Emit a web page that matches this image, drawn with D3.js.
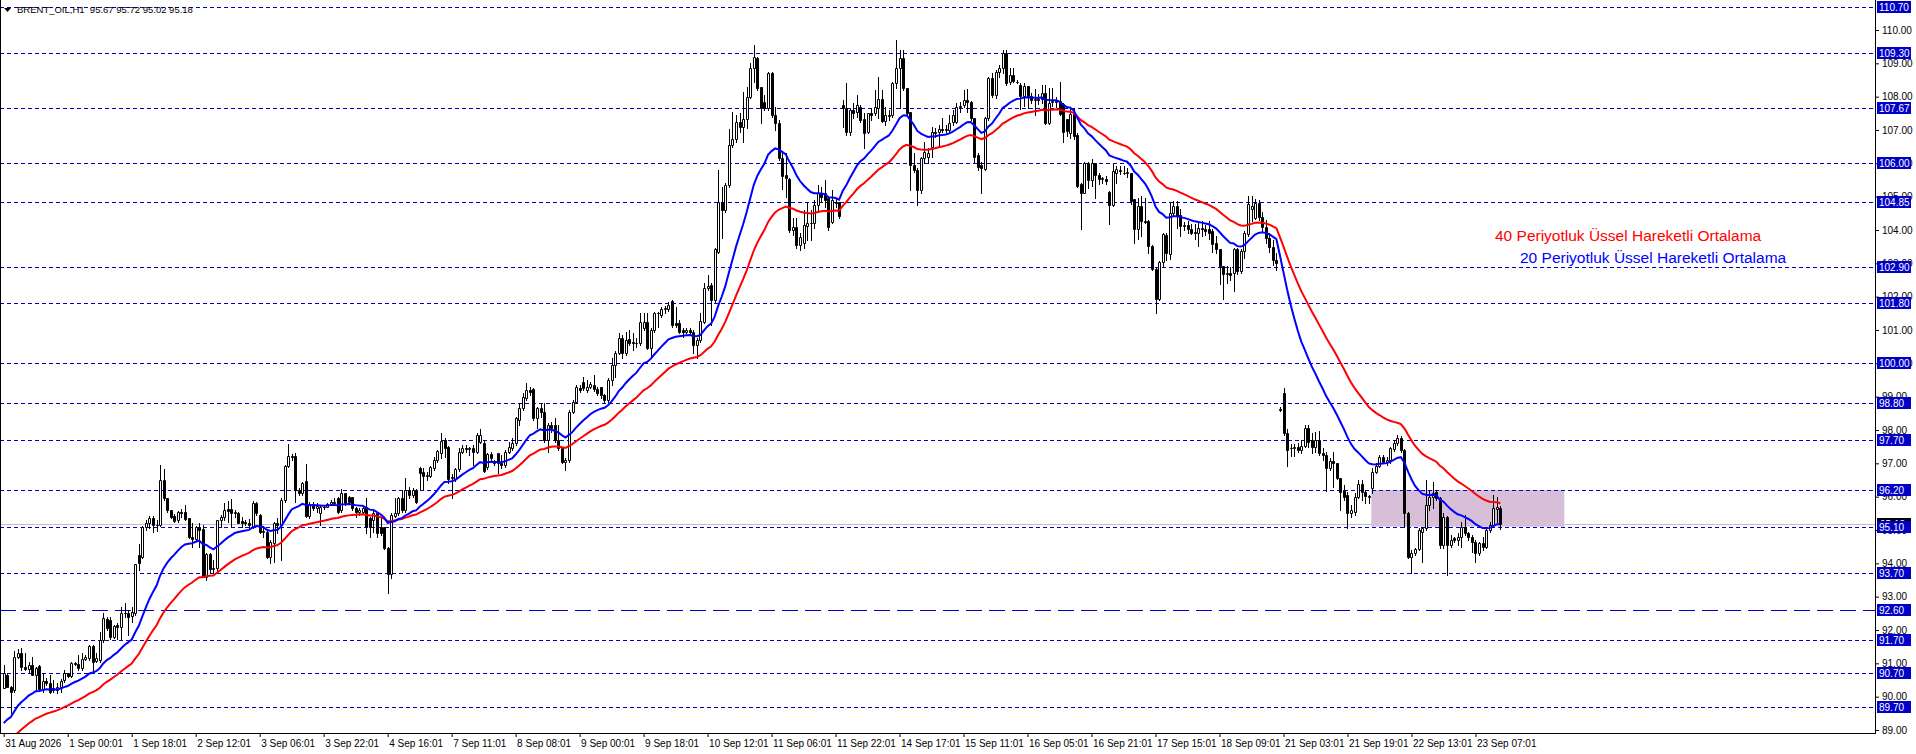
<!DOCTYPE html>
<html><head><meta charset="utf-8">
<script src="https://cdn.jsdelivr.net/npm/d3@7"></script>
<style>
html,body{margin:0;padding:0;background:#fff;overflow:hidden;}
svg{display:block;font-family:"Liberation Sans",Arial,sans-serif;}
</style></head><body>
<svg id="chart" width="1916" height="754"></svg>
<script>
const titleText = "BRENT_OIL,H1  95.67 95.72 95.02 95.18";
const tickLabels = ["31 Aug 2026","1 Sep 00:01","1 Sep 18:01","2 Sep 12:01","3 Sep 06:01","3 Sep 22:01","4 Sep 16:01","7 Sep 11:01","8 Sep 08:01","9 Sep 00:01","9 Sep 18:01","10 Sep 12:01","11 Sep 06:01","11 Sep 22:01","14 Sep 17:01","15 Sep 11:01","16 Sep 05:01","16 Sep 21:01","17 Sep 15:01","18 Sep 09:01","21 Sep 03:01","21 Sep 19:01","22 Sep 13:01","23 Sep 07:01"];
const barsPerTick = 18;
const priceTicks = [89,90,91,92,93,94,95,96,97,98,99,100,101,102,103,104,105,106,107,108,109,110];
const levelPrices = [110.70,109.30,107.67,106.00,104.85,102.90,101.80,100.00,98.80,97.70,96.20,95.10,93.70,92.60,91.70,90.70,89.70];
const longDashLevel = 92.60;
const bidPrice = 95.18;
const zoneBars = [384.7, 439];
const zonePrices = [95.10, 96.20];
const emaSeeds = {ema20: 89.05, ema40: 88.4};
const legendTexts = ["40 Periyotluk Üssel Hareketli Ortalama", "20 Periyotluk Üssel Hareketli Ortalama"];

const openP = [
90.25,90.65,90.30,90.20,91.20,91.30,90.90,90.82,90.95,90.65,
90.92,90.22,90.48,90.42,90.25,90.20,90.28,90.50,90.70,90.63,
91.00,90.97,90.85,91.12,91.15,91.52,91.08,91.10,91.70,92.33,
92.30,91.80,92.15,92.10,92.50,92.52,92.43,92.50,94.25,94.20,
95.10,95.20,95.35,95.15,95.15,96.50,95.95,95.60,95.42,95.30,
95.55,95.55,95.35,94.80,94.72,95.08,95.02,93.60,94.27,93.82,
93.85,95.30,95.40,95.62,95.62,95.52,95.52,95.28,95.25,95.20,
95.10,95.80,95.45,94.95,94.95,94.20,94.60,95.20,95.15,95.90,
96.92,97.22,97.22,96.20,96.12,96.48,95.42,95.78,95.65,95.50,
95.70,95.70,95.78,95.85,95.95,95.60,96.10,95.98,95.98,95.65,
95.55,95.55,95.70,95.35,95.30,95.50,95.10,95.08,94.45,93.68,
95.42,95.50,95.95,95.60,96.20,96.05,96.20,96.85,96.75,96.62,
96.62,96.85,97.10,97.30,97.70,97.50,96.55,96.52,96.82,97.35,
97.45,97.42,97.45,97.35,97.65,97.62,96.88,97.28,97.05,97.30,
97.00,96.95,97.35,97.45,97.60,98.30,98.65,98.95,99.20,99.22,
98.35,98.65,98.55,97.70,98.15,98.15,97.70,97.45,97.05,97.10,
98.55,98.85,99.25,99.45,99.20,99.28,99.35,99.22,99.28,99.05,
98.90,99.50,99.95,100.32,100.75,100.30,100.72,100.65,100.60,100.60,
101.05,101.25,100.45,101.00,101.52,101.45,101.62,101.62,101.88,101.20,
101.20,101.00,100.95,101.00,100.95,100.55,100.70,101.25,102.25,102.35,
101.90,103.35,104.85,104.60,105.35,106.55,106.72,107.25,107.10,107.32,
108.00,108.85,109.15,108.30,107.85,107.65,108.70,107.45,107.20,106.15,
105.65,105.52,104.00,104.10,103.55,103.60,104.12,104.20,104.20,104.75,
105.10,105.10,104.95,104.25,104.85,104.85,107.75,107.65,106.95,107.60,
107.55,107.70,107.32,106.95,107.50,107.50,107.65,107.92,107.28,107.45,
107.45,108.40,108.85,109.15,108.25,107.55,105.95,105.80,105.20,106.15,
106.20,106.50,106.95,106.95,107.02,107.00,107.00,107.25,107.25,107.70,
107.75,107.90,107.85,107.35,106.25,105.95,105.82,107.35,108.55,108.05,
108.75,108.85,109.30,108.45,108.65,108.45,108.35,108.02,108.32,108.02,
107.90,107.92,107.94,108.12,107.22,107.85,107.87,107.87,107.77,107.32,
106.92,107.47,106.84,105.37,105.12,106.00,105.50,106.02,105.64,105.52,
105.54,105.14,104.74,105.72,105.79,105.72,105.70,105.70,104.92,104.02,
104.72,104.27,104.27,103.52,102.82,101.92,103.04,103.85,103.27,104.52,
104.72,104.44,104.12,104.14,104.04,103.92,103.92,104.07,104.02,104.02,
103.97,103.60,103.42,102.92,102.67,102.72,102.72,103.42,102.77,103.37,
103.87,104.62,104.37,104.82,104.40,104.10,103.75,103.50,103.10,98.62,
99.10,97.90,97.45,97.45,97.50,97.40,97.52,98.05,97.70,97.50,
97.70,97.30,97.25,96.85,97.08,97.02,96.55,96.20,96.05,95.50,
95.55,96.00,96.38,96.15,96.02,96.25,96.75,96.92,97.20,97.05,
97.10,97.42,97.60,97.75,97.40,95.52,94.20,94.30,94.42,94.95,
95.05,95.75,96.00,96.15,95.95,94.55,95.40,94.55,94.75,94.70,
94.80,95.10,94.90,94.80,94.65,94.30,94.60,94.50,95.00,95.15,
95.62,95.67];

const highP = [
90.95,90.70,90.32,91.37,91.42,91.45,91.30,91.05,91.20,90.90,
90.95,90.70,90.55,90.65,90.50,90.40,90.52,90.80,90.72,91.05,
91.05,91.25,91.30,91.25,91.55,91.55,91.30,91.95,92.50,92.40,
92.40,92.15,92.20,92.70,92.80,92.60,92.70,93.98,94.58,95.12,
95.30,95.42,95.42,95.30,96.95,96.82,95.95,95.60,95.48,95.58,
95.62,95.75,95.35,95.20,95.12,95.20,95.15,94.30,94.30,94.10,
95.30,95.45,95.80,95.87,95.92,95.60,95.55,95.40,95.30,95.32,
95.88,95.85,95.48,95.10,94.98,94.70,95.25,95.35,95.95,96.95,
97.58,97.28,97.30,96.25,96.45,96.98,95.85,95.85,95.80,95.75,
95.75,95.82,95.90,95.95,96.00,96.22,96.12,96.02,96.00,95.68,
95.65,95.70,95.95,95.38,95.60,95.52,95.35,95.10,94.48,95.52,
95.95,96.00,96.20,96.55,96.30,96.25,96.22,96.90,96.85,96.75,
96.92,97.18,97.40,97.92,97.75,97.52,96.68,96.85,97.45,97.55,
97.55,97.50,97.55,97.92,98.02,97.70,97.32,97.35,97.10,97.30,
97.25,97.40,97.65,97.75,98.40,98.80,99.10,99.40,99.30,99.25,
98.70,98.80,98.80,98.20,98.25,98.35,98.15,97.50,97.15,98.60,
98.90,99.35,99.35,99.60,99.50,99.45,99.65,99.30,99.30,99.08,
99.55,100.15,100.38,100.92,100.85,100.95,101.00,100.92,100.75,101.50,
101.50,101.50,101.05,101.55,101.55,101.68,101.72,101.85,101.90,101.70,
101.30,101.05,101.05,101.05,101.00,100.75,101.50,102.40,102.65,102.40,
103.45,105.80,105.30,105.40,107.02,107.55,107.45,107.50,108.15,108.30,
109.00,109.55,109.20,108.30,108.05,108.75,108.75,107.70,107.30,106.30,
106.30,105.55,104.35,104.35,103.90,104.60,104.85,104.60,104.90,105.35,
105.30,105.50,105.00,105.20,104.95,104.85,107.90,108.40,107.62,107.80,
108.05,107.75,107.50,107.52,107.65,108.20,108.60,108.20,107.70,107.60,
108.45,109.70,109.40,109.40,108.25,107.55,106.30,105.85,106.20,106.65,
106.45,107.10,107.05,107.15,107.35,107.15,107.45,107.60,107.80,107.85,
108.20,108.22,107.88,107.35,106.30,106.05,107.40,108.60,108.70,108.80,
108.95,109.40,109.40,108.85,108.85,108.50,108.42,108.42,108.32,108.10,
108.22,108.07,108.34,108.34,108.27,108.27,108.00,108.44,107.82,107.32,
107.62,107.67,106.90,105.40,106.05,106.05,106.12,106.02,105.72,105.60,
105.62,105.17,105.97,105.92,105.92,105.92,105.85,105.72,104.92,104.97,
105.02,104.97,104.30,103.54,102.85,103.07,103.92,103.92,104.84,104.87,
104.87,104.62,104.25,104.27,104.17,104.17,104.27,104.27,104.15,104.27,
104.02,103.82,103.42,102.92,102.92,102.90,103.47,103.47,103.42,103.97,
105.02,105.02,104.92,104.90,104.55,104.30,103.90,103.70,103.30,98.70,
99.25,98.02,97.58,97.58,97.62,97.70,98.15,98.15,97.90,97.95,
97.98,97.45,97.35,97.15,97.35,97.02,96.55,96.35,96.15,95.75,
96.10,96.50,96.50,96.20,96.05,96.85,97.00,97.25,97.25,97.20,
97.50,97.70,97.85,97.82,97.42,95.55,94.40,94.45,95.05,95.10,
96.50,96.20,96.45,96.20,96.00,95.50,95.42,94.85,94.80,94.90,
95.25,95.45,94.95,94.85,94.70,94.65,94.80,95.05,95.25,96.05,
96.00,95.72];

const lowP = [
90.25,90.28,89.50,90.15,91.15,90.80,90.80,90.70,90.65,90.20,
90.20,90.15,90.35,90.10,90.15,90.10,90.15,90.45,90.60,90.60,
90.95,90.80,90.80,91.10,91.10,90.70,91.05,91.05,91.65,92.00,
91.72,91.75,91.72,91.72,92.40,91.85,92.25,92.45,93.80,94.15,
95.00,95.05,94.95,94.98,95.12,95.90,95.55,95.35,95.25,95.25,
95.40,95.30,94.75,94.50,94.70,94.48,93.58,93.50,93.75,93.70,
93.78,95.08,95.30,95.25,95.08,95.40,95.20,95.08,95.15,95.05,
95.05,95.45,94.90,94.80,94.15,94.00,94.05,94.90,94.10,95.85,
96.90,97.10,95.85,96.05,96.05,95.40,95.35,95.60,95.55,95.15,
95.62,95.68,95.75,95.78,95.50,95.55,95.75,95.80,95.60,95.38,
95.45,95.50,94.90,94.80,94.95,94.80,94.85,94.42,93.12,93.55,
95.38,95.45,95.55,95.55,95.95,96.00,95.80,96.22,96.22,96.50,
96.58,96.80,97.05,97.15,97.20,96.42,95.95,96.48,96.78,97.30,
97.35,97.25,96.95,97.30,97.60,96.75,96.82,97.10,96.95,96.72,
96.85,96.90,97.30,97.40,97.55,98.15,98.60,98.90,99.05,98.30,
98.05,98.40,97.65,97.35,97.95,97.65,97.40,97.00,96.80,97.05,
98.50,98.80,99.15,99.20,99.15,99.25,99.18,99.05,98.95,98.80,
98.85,99.35,99.60,100.28,100.15,100.25,100.55,100.40,100.50,100.55,
101.00,100.42,100.15,100.95,101.10,101.40,101.50,101.58,101.10,101.10,
100.92,100.80,100.90,100.85,100.30,100.15,100.65,101.20,102.20,101.15,
101.85,103.30,103.75,104.55,105.30,106.50,106.65,106.95,106.65,107.05,
107.95,108.45,108.20,107.20,107.60,107.60,107.40,107.00,106.10,105.22,
105.00,103.95,103.85,103.45,103.40,103.45,103.70,103.70,104.05,104.55,
104.85,104.70,104.00,104.20,104.70,104.35,107.10,106.85,106.85,107.35,
107.40,107.25,106.45,106.90,107.30,107.45,107.35,107.25,107.15,107.30,
107.40,108.25,107.65,108.20,107.45,105.20,105.75,104.75,105.10,106.00,
106.00,106.20,106.80,106.50,106.95,106.95,106.95,107.15,107.20,107.55,
107.70,107.55,107.30,106.05,105.80,105.10,105.80,107.30,108.00,107.95,
108.60,108.70,108.35,108.37,108.45,108.40,107.62,107.72,107.67,107.80,
107.45,107.77,107.82,107.17,107.17,107.72,107.70,107.45,106.64,106.82,
106.77,106.72,105.30,104.02,105.10,105.27,105.32,104.97,105.37,105.40,
105.37,104.17,104.72,105.42,105.67,105.67,105.60,104.77,103.62,103.72,
103.82,104.22,103.32,102.80,101.52,101.90,102.92,103.10,103.12,104.42,
104.07,103.82,104.00,103.92,103.87,103.72,103.52,103.82,103.85,103.72,
103.34,103.32,102.37,101.92,102.42,102.50,102.17,102.67,102.72,103.17,
103.82,104.27,104.32,104.30,103.95,103.60,103.35,102.95,102.80,98.58,
97.85,96.92,97.22,97.22,97.35,97.30,97.50,97.50,97.30,97.35,
97.25,97.10,96.18,96.80,96.30,96.52,95.60,95.90,95.05,95.40,
95.45,95.95,95.90,95.80,95.80,96.10,96.70,96.88,97.00,96.95,
97.00,97.38,97.55,97.35,95.10,94.15,93.70,94.25,94.40,94.05,
95.00,95.60,95.65,95.90,94.45,94.45,93.65,94.50,94.65,94.55,
94.50,94.85,94.70,94.35,94.05,94.25,94.40,94.45,94.95,95.10,
95.25,95.02];

const closeP = [
90.70,90.30,90.15,91.20,91.30,90.90,90.82,90.95,90.65,90.87,
90.22,90.48,90.42,90.15,90.20,90.28,90.48,90.70,90.63,91.00,
90.97,90.85,91.12,91.18,91.52,91.05,91.15,91.70,92.35,92.05,
91.80,92.12,92.10,92.50,92.52,92.40,92.53,93.98,94.00,95.10,
95.20,95.35,95.15,95.14,96.50,95.95,95.60,95.40,95.28,95.55,
95.50,95.32,94.78,94.74,95.08,95.00,93.60,94.27,93.82,93.85,
95.30,95.40,95.60,95.57,95.52,95.55,95.22,95.22,95.20,95.15,
95.80,95.50,94.95,94.98,94.20,94.65,95.20,95.15,95.90,96.92,
97.22,97.18,96.20,96.12,96.42,95.42,95.78,95.65,95.72,95.70,
95.68,95.78,95.85,95.82,95.55,96.10,95.80,95.85,95.65,95.55,
95.60,95.65,95.10,95.10,95.50,94.90,94.90,94.45,93.68,95.45,
95.52,95.95,95.60,96.20,96.05,96.20,95.85,96.70,96.62,96.65,
96.88,97.10,97.38,97.68,97.45,96.52,96.58,96.82,97.35,97.45,
97.42,97.45,97.35,97.85,97.85,96.78,97.28,97.15,97.00,97.00,
96.95,97.35,97.50,97.60,98.35,98.65,99.00,99.20,99.15,98.35,
98.65,98.55,97.70,98.15,98.05,97.70,97.45,97.05,97.10,98.55,
98.85,99.30,99.20,99.25,99.28,99.38,99.22,99.10,99.05,98.90,
99.50,99.95,100.32,100.75,100.32,100.70,100.60,100.60,100.62,101.25,
101.25,100.45,101.00,101.52,101.50,101.62,101.65,101.75,101.15,101.15,
100.95,100.95,101.00,100.95,100.55,100.70,101.28,102.25,102.32,101.90,
103.42,104.85,104.60,105.35,106.55,106.72,107.25,107.10,107.32,108.00,
108.85,109.20,108.25,107.65,107.65,108.70,107.45,107.20,106.15,105.62,
105.55,104.00,104.10,103.55,103.80,104.15,104.22,104.22,104.75,105.10,
105.00,104.90,104.10,104.90,104.82,104.42,107.65,106.95,107.60,107.50,
107.75,107.30,106.90,107.50,107.45,107.70,107.92,107.28,107.45,107.42,
108.40,108.85,109.15,108.25,107.50,105.95,105.80,105.20,106.15,106.35,
106.30,106.95,106.90,107.02,107.00,107.02,107.20,107.45,107.70,107.72,
107.90,107.85,107.35,106.20,105.90,105.85,107.35,108.55,108.05,108.75,
108.85,109.30,108.40,108.65,108.47,108.43,108.02,108.32,108.02,107.90,
107.94,107.90,108.12,107.22,107.82,107.87,107.85,107.47,106.94,106.97,
107.47,106.82,105.32,105.12,106.02,105.50,106.02,105.64,105.52,105.55,
105.47,104.74,105.77,105.82,105.77,105.70,105.75,104.87,104.02,104.72,
104.27,104.25,103.52,102.82,101.92,103.04,103.87,103.30,104.52,104.72,
104.42,104.12,104.15,104.04,103.92,103.94,104.07,104.02,103.98,103.92,
103.57,103.42,102.92,102.67,102.72,102.65,103.42,102.77,103.37,103.92,
104.77,104.72,104.82,104.40,104.10,103.75,103.50,103.10,103.00,98.60,
97.92,97.40,97.45,97.50,97.40,97.52,98.05,97.65,97.50,97.70,
97.30,97.25,96.85,97.08,97.02,96.55,96.15,96.00,95.50,95.60,
96.00,96.38,96.15,96.02,96.00,96.75,96.92,97.20,97.05,97.10,
97.45,97.60,97.75,97.40,95.52,94.20,94.30,94.42,95.00,95.05,
95.75,96.00,96.10,95.95,94.55,95.40,94.55,94.70,94.70,94.80,
95.10,94.90,94.80,94.65,94.30,94.60,94.50,95.00,95.15,95.65,
95.70,95.18];

// ---------- layout ----------
const W = 1916, H = 754, plotR = 1875, plotB = 733;
const levelColor = "#0000C8";
const n = closeP.length;
const x = d3.scaleLinear().domain([0, n - 1]).range([3.7, 3.7 + (n - 1) * 3.555]);
const y = d3.scaleLinear().domain([110, 89]).range([30, 730]);
const svg = d3.select("#chart");

svg.append("rect").attr("width", W).attr("height", H).attr("fill", "#fff");
svg.append("defs").append("clipPath").attr("id", "plotClip")
  .append("rect").attr("x", 0).attr("y", 0).attr("width", plotR).attr("height", plotB);
const plot = svg.append("g").attr("clip-path", "url(#plotClip)");

// bid line
plot.append("line").attr("x1", 0).attr("x2", plotR)
  .attr("y1", Math.round(y(bidPrice)) + 0.5).attr("y2", Math.round(y(bidPrice)) + 0.5)
  .attr("stroke", "#c0c0c0").attr("stroke-width", 1);

// zone rectangle
plot.append("rect")
  .attr("x", x(zoneBars[0])).attr("width", x(zoneBars[1]) - x(zoneBars[0]))
  .attr("y", y(zonePrices[1])).attr("height", y(zonePrices[0]) - y(zonePrices[1]))
  .attr("fill", "#d8bfd8");

// level lines
plot.selectAll("line.level").data(levelPrices).enter().append("line")
  .attr("class", "level")
  .attr("x1", 0).attr("x2", plotR)
  .attr("y1", d => Math.round(y(d)) + 0.5).attr("y2", d => Math.round(y(d)) + 0.5)
  .attr("stroke", levelColor).attr("stroke-width", 1)
  .attr("stroke-dasharray", d => d === longDashLevel ? "16,7" : "4,3");

// candles
const idx = d3.range(n);
const cg = plot.append("g");
cg.selectAll("line.wick").data(idx).enter().append("line")
  .attr("x1", i => Math.round(x(i)) + 0.5).attr("x2", i => Math.round(x(i)) + 0.5)
  .attr("y1", i => Math.round(y(highP[i]))).attr("y2", i => Math.round(y(lowP[i])) + 1)
  .attr("stroke", "#000").attr("stroke-width", 1);
cg.selectAll("path.body").data(idx).enter().append("path")
  .attr("d", i => {
    const px = Math.round(x(i));
    const t = Math.round(y(Math.max(openP[i], closeP[i]))) + 0.5;
    const b = Math.round(y(Math.min(openP[i], closeP[i]))) + 0.5;
    const l = px - 0.5, r = px + 1.5;
    return `M${l},${t}H${r}V${b}H${l}Z`;
  })
  .attr("fill", i => closeP[i] >= openP[i] ? "#fff" : "#000")
  .attr("stroke", "#000").attr("stroke-width", 1);

// EMAs
function ema(vals, period, seed) {
  const a = 2 / (period + 1);
  let e = seed;
  return vals.map(v => (e = e + a * (v - e)));
}
const ema20 = ema(closeP, 20, emaSeeds.ema20);
const ema40 = ema(closeP, 40, emaSeeds.ema40);
const line = d3.line().x((d, i) => x(i)).y(d => y(d));
plot.append("path").attr("d", line(ema40)).attr("fill", "none").attr("stroke", "#ff0000").attr("stroke-width", 2);
plot.append("path").attr("d", line(ema20)).attr("fill", "none").attr("stroke", "#0000ff").attr("stroke-width", 2);

// legend texts
svg.append("text").attr("x", 1495).attr("y", 241).attr("font-size", "15.5px").attr("fill", "#ff0000").text(legendTexts[0]);
svg.append("text").attr("x", 1520).attr("y", 263).attr("font-size", "15.5px").attr("fill", "#0000ff").text(legendTexts[1]);

// frame
svg.append("line").attr("x1", 0.5).attr("x2", 0.5).attr("y1", 0).attr("y2", plotB).attr("stroke", "#000");
svg.append("line").attr("x1", plotR + 0.5).attr("x2", plotR + 0.5).attr("y1", 0).attr("y2", plotB + 1).attr("stroke", "#000");
svg.append("line").attr("x1", 0).attr("x2", plotR + 1).attr("y1", plotB + 0.5).attr("y2", plotB + 0.5).attr("stroke", "#000");

// bottom axis
const tickBars = tickLabels.map((_, i) => i * barsPerTick);
const gx = svg.append("g").attr("transform", `translate(0,${plotB})`)
  .call(d3.axisBottom(x).tickValues(tickBars).tickFormat((d, i) => tickLabels[i]).tickSize(4).tickSizeOuter(0));
gx.select(".domain").remove();
gx.selectAll("line").attr("stroke", "#000");
gx.selectAll("text").attr("text-anchor", "start").attr("dx", "1px")
  .attr("font-family", "'Liberation Sans',Arial,sans-serif").attr("font-size", "10px").attr("fill", "#000");

// right axis
const gy = svg.append("g").attr("transform", `translate(${plotR},0)`)
  .call(d3.axisRight(y).tickValues(priceTicks).tickFormat(d3.format(".2f")).tickSize(4).tickSizeOuter(0));
gy.select(".domain").remove();
gy.selectAll("line").attr("stroke", "#000");
gy.selectAll("text").attr("font-family", "'Liberation Sans',Arial,sans-serif").attr("font-size", "10px").attr("fill", "#000");

// bid label (mostly hidden)
const lab = svg.append("g");
lab.append("rect").attr("x", plotR + 2).attr("y", Math.round(y(bidPrice)) - 6).attr("width", 34).attr("height", 12).attr("fill", "#000");
lab.append("text").attr("x", plotR + 5).attr("y", Math.round(y(bidPrice)) + 4).attr("font-size", "10px").attr("fill", "#fff").text(bidPrice.toFixed(2));
// level labels
levelPrices.forEach(p => {
  const yy = Math.round(y(p));
  lab.append("rect").attr("x", plotR + 2).attr("y", yy - 6).attr("width", 34).attr("height", 12).attr("fill", levelColor);
  lab.append("text").attr("x", plotR + 4).attr("y", yy + 4).attr("font-size", "10px").attr("fill", "#fff").text(p.toFixed(2));
});

// title
svg.append("path").attr("d", "M4,8H11L7.5,12Z").attr("fill", "#000");
svg.append("text").attr("x", 17).attr("y", 13).attr("font-size", "9.5px").attr("fill", "#000")
  .attr("xml:space", "preserve").style("white-space", "pre").text(titleText);
</script>
</body></html>
